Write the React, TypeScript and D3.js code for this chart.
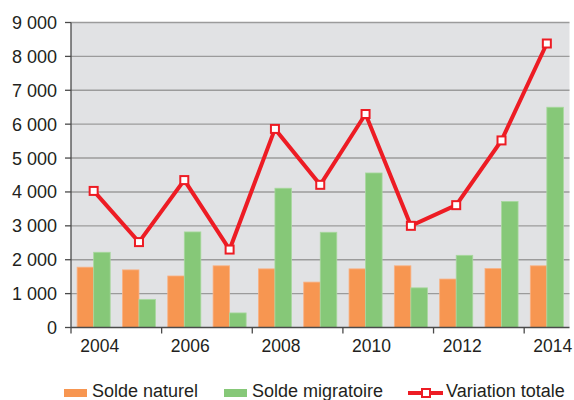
import React, { useRef, useEffect } from 'react';
import * as d3 from 'd3';

const years = ['2004', '2005', '2006', '2007', '2008', '2009', '2010', '2011', '2012', '2013', '2014'];
const soldeNaturel = [1780, 1700, 1520, 1820, 1730, 1340, 1730, 1820, 1430, 1740, 1820];
const soldeMigratoire = [2220, 830, 2820, 430, 4110, 2810, 4560, 1170, 2130, 3720, 6500];
const variationTotale = [4030, 2520, 4350, 2300, 5860, 4210, 6300, 3000, 3610, 5520, 8380];
const yTicks = [0, 1000, 2000, 3000, 4000, 5000, 6000, 7000, 8000, 9000];
const legendLabels = ['Solde naturel', 'Solde migratoire', 'Variation totale'];

const W = 574;
const H = 400;
const FONT = '"Liberation Sans", Arial, sans-serif';
const ORANGE = '#f79651';
const GREEN = '#86c878';
const RED = '#ed1c24';

const App = () => {
  const ref = useRef(null);
  const margin = { top: 22.5, bottom: 72.5, left: 71, right: 4.5 };

  useEffect(() => {
    const svg = d3.select(ref.current);
    svg.selectAll('*').remove();

    const x = d3.scaleBand()
      .domain(years)
      .range([margin.left, W - margin.right]);
    const sub = d3.scaleBand()
      .domain(['n', 'm'])
      .range([0, x.bandwidth()])
      .paddingOuter(0.37);
    const y = d3.scaleLinear()
      .domain([0, 9000])
      .range([H - margin.bottom, margin.top]);

    // plot background
    svg.append('rect')
      .attr('x', margin.left)
      .attr('y', margin.top)
      .attr('width', W - margin.left - margin.right)
      .attr('height', y(0) - margin.top)
      .attr('fill', '#e1e2e4');

    // gridlines
    svg.append('g')
      .selectAll('line')
      .data(yTicks.filter(d => d > 0))
      .join('line')
      .attr('x1', margin.left)
      .attr('x2', W - margin.right)
      .attr('y1', d => y(d))
      .attr('y2', d => y(d))
      .attr('stroke', '#9b9b9b')
      .attr('stroke-width', 1.4);

    // bars
    const groups = svg.append('g')
      .selectAll('g')
      .data(years)
      .join('g')
      .attr('transform', d => `translate(${x(d)},0)`);

    groups.append('rect')
      .attr('x', sub('n'))
      .attr('width', sub.bandwidth())
      .attr('y', (d, i) => y(soldeNaturel[i]))
      .attr('height', (d, i) => y(0) - y(soldeNaturel[i]))
      .attr('fill', ORANGE)
      .attr('stroke', '#f9b285')
      .attr('stroke-width', 0.8);

    groups.append('rect')
      .attr('x', sub('m'))
      .attr('width', sub.bandwidth())
      .attr('y', (d, i) => y(soldeMigratoire[i]))
      .attr('height', (d, i) => y(0) - y(soldeMigratoire[i]))
      .attr('fill', GREEN)
      .attr('stroke', '#a8d89e')
      .attr('stroke-width', 0.8);

    // axes
    svg.append('line')
      .attr('x1', margin.left).attr('x2', margin.left)
      .attr('y1', margin.top).attr('y2', y(0) + 6)
      .attr('stroke', '#4a4a4a').attr('stroke-width', 1.3);
    svg.append('line')
      .attr('x1', margin.left).attr('x2', W - margin.right)
      .attr('y1', y(0)).attr('y2', y(0))
      .attr('stroke', '#4a4a4a').attr('stroke-width', 1.3);

    const fmt = (v) => d3.format(',')(v).replace(/,/g, '\u00a0');
    const yAxis = svg.append('g');
    yAxis.selectAll('line')
      .data(yTicks)
      .join('line')
      .attr('x1', margin.left - 6).attr('x2', margin.left)
      .attr('y1', d => y(d)).attr('y2', d => y(d))
      .attr('stroke', '#4a4a4a').attr('stroke-width', 1.3);
    yAxis.selectAll('text')
      .data(yTicks)
      .join('text')
      .attr('x', margin.left - 14)
      .attr('y', d => y(d))
      .attr('dy', '0.36em')
      .attr('text-anchor', 'end')
      .attr('font-family', FONT)
      .attr('font-size', 18)
      .attr('fill', '#231f20')
      .text(d => fmt(d));

    const evenYears = years.filter((d, i) => i % 2 === 0);
    const xAxis = svg.append('g');
    xAxis.selectAll('line')
      .data(evenYears.slice(1))
      .join('line')
      .attr('x1', d => x(d)).attr('x2', d => x(d))
      .attr('y1', y(0)).attr('y2', y(0) + 6)
      .attr('stroke', '#4a4a4a').attr('stroke-width', 1.3);
    xAxis.selectAll('text')
      .data(evenYears)
      .join('text')
      .attr('x', d => x(d) + x.bandwidth() / 2 + 6)
      .attr('y', y(0) + 24)
      .attr('text-anchor', 'middle')
      .attr('font-family', FONT)
      .attr('font-size', 17.5)
      .attr('fill', '#231f20')
      .text(d => d);

    // total line
    const cx = (d) => x(d) + x.bandwidth() / 2;
    const line = d3.line()
      .x((d, i) => cx(years[i]))
      .y(d => y(d));
    svg.append('path')
      .datum(variationTotale)
      .attr('d', line)
      .attr('fill', 'none')
      .attr('stroke', RED)
      .attr('stroke-width', 4)
      .attr('stroke-linejoin', 'miter');
    svg.append('g')
      .selectAll('rect')
      .data(variationTotale)
      .join('rect')
      .attr('x', (d, i) => cx(years[i]) - 4)
      .attr('y', d => y(d) - 4)
      .attr('width', 8)
      .attr('height', 8)
      .attr('fill', '#fff')
      .attr('stroke', RED)
      .attr('stroke-width', 2);

    // legend
    const lg = svg.append('g').attr('font-family', FONT).attr('font-size', 18).attr('fill', '#231f20');
    const ly = 393;
    lg.append('rect').attr('x', 64).attr('y', ly - 4).attr('width', 23).attr('height', 8).attr('fill', ORANGE);
    lg.append('text').attr('x', 92).attr('y', ly + 4).text(legendLabels[0]);
    lg.append('rect').attr('x', 224).attr('y', ly - 4).attr('width', 23).attr('height', 8).attr('fill', GREEN);
    lg.append('text').attr('x', 252).attr('y', ly + 4).text(legendLabels[1]);
    lg.append('line').attr('x1', 408).attr('x2', 443).attr('y1', ly).attr('y2', ly)
      .attr('stroke', RED).attr('stroke-width', 4);
    lg.append('rect').attr('x', 422).attr('y', ly - 4).attr('width', 8).attr('height', 8)
      .attr('fill', '#fff').attr('stroke', RED).attr('stroke-width', 2);
    lg.append('text').attr('x', 446).attr('y', ly + 4).text(legendLabels[2]);
  }, []);

  return (
    <svg ref={ref} width={W} height={H} style={{ position: 'absolute', left: 0, top: 0, background: '#fff' }}></svg>
  );
};

export default App;
